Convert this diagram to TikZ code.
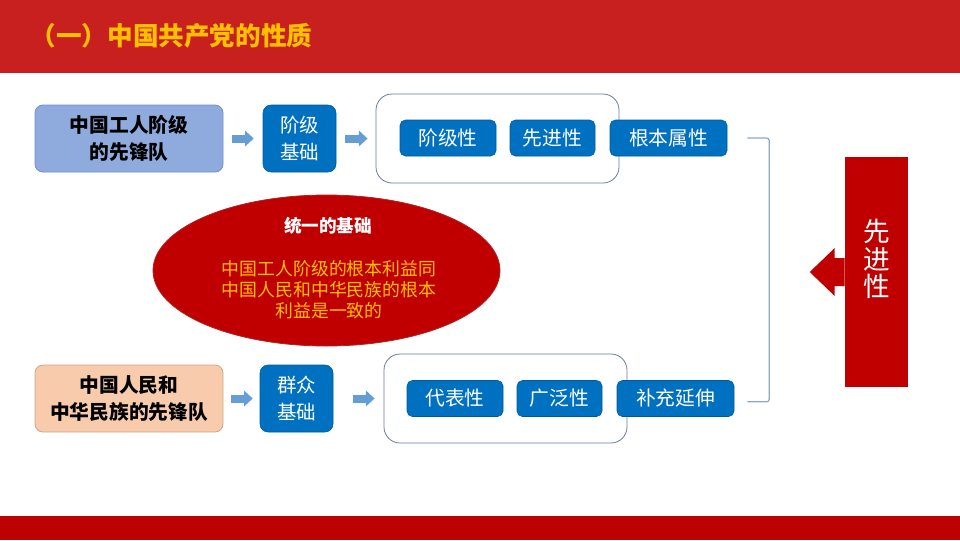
\documentclass[tikz,border=0pt]{standalone}
\usepackage{fontspec}
\setmainfont{Noto Sans CJK SC}
\usetikzlibrary{arrows.meta,shapes.geometric}
\definecolor{hdrred}{RGB}{200,32,30}
\definecolor{barred}{RGB}{189,0,0}
\definecolor{darkred}{RGB}{192,0,0}
\definecolor{titleyel}{RGB}{255,192,0}
\definecolor{boxblue}{RGB}{0,112,192}
\definecolor{lightblue}{RGB}{143,170,220}
\definecolor{lightblueb}{RGB}{112,145,205}
\definecolor{peach}{RGB}{248,203,173}
\definecolor{peachb}{RGB}{205,165,135}
\definecolor{arrblue}{RGB}{100,158,212}
\definecolor{outl}{RGB}{105,125,155}
\definecolor{brk}{RGB}{140,168,200}
\tikzset{
  srcbox/.style={draw, line width=0.6pt, rounded corners=6pt, minimum width=141pt, minimum height=50.25pt, align=center, font=\bfseries\fontsize{14.8}{20}\selectfont, text=black},
  basebox/.style={fill=boxblue, draw=boxblue!80!black, line width=0.4pt, rounded corners=6pt, minimum width=54.75pt, minimum height=50.25pt, align=center, text=white, font=\fontsize{14.6}{20}\selectfont},
  outlinebox/.style={draw=outl, line width=0.6pt, rounded corners=12pt, minimum width=182.25pt, minimum height=66.75pt},
  tagbox/.style={fill=boxblue, draw=boxblue!80!black, line width=0.4pt, rounded corners=4pt, minimum height=27pt, text=white, font=\fontsize{14.8}{18}\selectfont},
  blockarr/.style={draw=arrblue, line width=6pt, -{Triangle[length=6.5pt,width=11.5pt]}},
  brace/.style={draw=brk, line width=0.9pt, rounded corners=2pt}
}
\begin{document}
\begin{tikzpicture}[x=0.75pt,y=-0.75pt]
\useasboundingbox (0,0) rectangle (960,540);
% header and footer
\fill[hdrred] (0,0) rectangle (960,73);
\fill[barred] (0,516) rectangle (960,540);
\node[anchor=west, text=titleyel, font=\bfseries\fontsize{19.2}{22}\selectfont] (title) at (26,36) {（一）中国共产党的性质};

% top row
\node[srcbox, fill=lightblue, draw=lightblueb] (src1) at (129,138.5) {中国工人阶级\\的先锋队};
\node[basebox] (base1) at (299.5,138.5) {阶级\\基础};
\node[outlinebox] (grp1) at (497.5,138.5) {};
\node[tagbox, minimum width=72pt] (t11) at (448,138) {阶级性};
\node[tagbox, minimum width=63.75pt] (t12) at (552.5,138) {先进性};
\node[tagbox, minimum width=87.75pt] (t13) at (668.5,138) {根本属性};
\draw[blockarr, shorten <=6.75pt, shorten >=6.75pt] (src1.east) -- (base1.west);
\draw[blockarr, shorten <=6.75pt, shorten >=6pt] (base1.east) -- (grp1.west);

% bottom row
\node[srcbox, fill=peach, draw=peachb] (src2) at (129,398.5) {中国人民和\\中华民族的先锋队};
\node[basebox] (base2) at (296.5,398.5) {群众\\基础};
\node[outlinebox] (grp2) at (505.5,398.5) {};
\node[tagbox, minimum width=72pt] (t21) at (455,398.5) {代表性};
\node[tagbox, minimum width=63.75pt] (t22) at (559.5,398.5) {广泛性};
\node[tagbox, minimum width=87.75pt] (t23) at (675.5,398.5) {补充延伸};
\draw[blockarr, shorten <=6pt, shorten >=5.25pt] (src2.east) -- (base2.west);
\draw[blockarr, shorten <=15pt, shorten >=6.75pt] (base2.east) -- (grp2.west);

% ellipse
\node[ellipse, fill=darkred, draw=darkred!70!gray, line width=0.6pt, minimum width=260.25pt, minimum height=113.25pt] (unity) at (326.5,270.5) {};
\node[text=white, font=\bfseries\fontsize{13.2}{16}\selectfont] (unityt) at (328,226) {统一的基础};
\node[text=titleyel, align=center, font=\fontsize{13.4}{15.75}\selectfont] (unityb) at (329,290) {中国工人阶级的根本利益同\\中国人民和中华民族的根本\\利益是一致的};

% bracket
\coordinate (bt) at ([xshift=15pt]t13.east);
\coordinate (bb) at ([xshift=9.75pt,yshift=-2.5pt]t23.east);
\draw[brace] (bt) -- ++(16.5pt,0) |- (bb);

% red advanced block with arrow
\node[fill=darkred, minimum width=47.25pt, minimum height=172.5pt, inner sep=0pt] (adv) at (876.5,272) {};
\fill[darkred] ([yshift=10.5pt]adv.west) -- ++(-7.5pt,0) -- ++(0,7.5pt) -- ++(-18.75pt,-18pt) -- ++(18.75pt,-18pt) -- ++(0,7.5pt) -- ++(7.5pt,0) -- cycle;
\node[text=white, align=center, font=\fontsize{20}{20.5}\selectfont] (advt) at ([yshift=9.75pt]adv.center) {先\\进\\性};
\end{tikzpicture}
\end{document}
